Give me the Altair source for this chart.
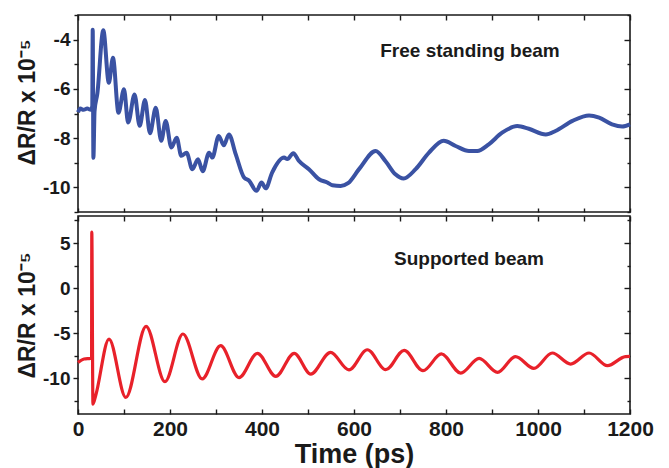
import altair as alt
import pandas as pd

# ---- data ----
# Free standing beam (blue), time in ps, dR/R x 1e-5
fs_t = [0, 5, 12, 20, 28, 31, 32, 33.5, 36, 42, 55, 67, 76, 88, 100, 109, 123, 134, 145.6, 156.5,
        169, 181, 190.6, 203, 214.5, 224.6, 236, 248.5, 261, 271, 285, 292, 306, 317, 328, 343,
        361, 372, 388, 399, 408, 422, 448, 455, 468, 480, 502, 524, 542, 553, 571, 587, 611,
        647, 669, 690, 708, 734, 763, 795, 821, 850, 868, 893, 922, 955, 980, 1017, 1038, 1075,
        1111, 1133, 1161, 1183, 1200]
fs_v = [-6.95, -6.8, -6.85, -6.8, -6.85, -6.7, -3.6, -8.8, -6.9, -6.2, -3.62, -5.75, -4.74, -6.97,
        -6.02, -7.37, -6.23, -7.5, -6.45, -7.8, -6.77, -8.11, -7.3, -8.38, -7.98, -8.72, -8.59,
        -9.26, -8.86, -9.35, -8.59, -8.79, -7.91, -8.29, -7.85, -8.66, -9.6, -9.73, -10.14, -9.8,
        -10.04, -9.4, -8.79, -8.85, -8.61, -8.92, -9.26, -9.67, -9.8, -9.91, -9.94, -9.83, -9.26,
        -8.52, -8.95, -9.47, -9.64, -9.26, -8.59, -8.11, -8.32, -8.52, -8.52, -8.25, -7.78, -7.51,
        -7.62, -7.85, -7.71, -7.3, -7.08, -7.17, -7.44, -7.53, -7.44]

# Supported beam (red)
sb_t = [0, 13, 27, 29.5, 30, 32.5, 38.4, 67.4, 104, 148, 189, 228, 270, 310, 350, 390, 430, 470,
        506, 549, 589, 629, 669, 709, 750, 790, 832, 872, 912, 951, 991, 1031, 1071, 1111, 1151,
        1190, 1200]
sb_v = [-8.27, -7.89, -7.82, -7.8, 6.2, -12.9, -11.97, -5.67, -12.15, -4.26, -10.41, -5.11, -10.1,
        -6.41, -9.95, -7.26, -9.82, -7.26, -9.56, -7.15, -9.1, -6.86, -9.08, -6.93, -9.19, -7.33,
        -9.45, -7.82, -9.37, -7.63, -8.93, -7.22, -8.45, -7.22, -8.63, -7.62, -7.6]

x_ticks = list(range(0, 1201, 100))
top_major = [-10, -8, -6, -4]
top_minor = [-11, -9, -7, -5, -3]
bot_major = [-10, -5, 0, 5]
bot_minor = [-12.5, -7.5, -2.5, 2.5, 7.5]
top_note = ["Free standing beam"]
bot_note = ["Supported beam"]
y_title = "\u0394R/R x 10\u207b\u2075"
x_title = "Time (ps)"

FONT = "Liberation Sans"
INK = "#1a1a1a"
PW = 552
YLAB = "(datum.value < 0 ? '-' : '') + abs(datum.value)"


def panel(t, v, color, lw, ydom, ymajor, yminor, height, note, nx, ny, bottom, ty):
    df = pd.DataFrame({"t": t, "v": v})
    xs = alt.Scale(domain=[0, 1200], nice=False, zero=False)
    ys = alt.Scale(domain=ydom, nice=False, zero=False)
    if bottom:
        xb = alt.Axis(orient="bottom", values=x_ticks, tickSize=5, offset=-5, domain=False,
                      grid=False, labelExpr="datum.value % 200 == 0 ? '' + datum.value : ''",
                      labelFlush=False, labelOverlap=False, labelFontSize=21, labelPadding=4,
                      title=x_title, titleFontSize=27, titlePadding=2)
    else:
        xb = alt.Axis(orient="bottom", values=x_ticks, tickSize=4, offset=-4, domain=False,
                      grid=False, labels=False, title="")
    xt = alt.Axis(orient="top", values=x_ticks, tickSize=5, offset=-5, domain=False,
                  grid=False, labels=False, title="")
    yl = alt.Axis(orient="left", values=ymajor, tickSize=5, domain=False, grid=False,
                  labelExpr=YLAB, labelFontSize=19, labelPadding=3, title=y_title,
                  titleFontSize=23, titlePadding=3, titleY=ty)
    ylm = alt.Axis(orient="left", values=yminor, tickSize=4, domain=False, grid=False,
                   labels=False, title="")
    yr = alt.Axis(orient="right", values=ymajor, tickSize=6, offset=-6, domain=False,
                  grid=False, labels=False, title="")
    yrm = alt.Axis(orient="right", values=yminor, tickSize=3, offset=-3, domain=False,
                   grid=False, labels=False, title="")

    base = alt.Chart(df)
    line = base.mark_line(color=color, strokeWidth=lw, interpolate="monotone").encode(
        x=alt.X("t:Q", scale=xs, axis=xb), y=alt.Y("v:Q", scale=ys, axis=yl))
    a2 = base.mark_line(strokeOpacity=0).encode(
        x=alt.X("t:Q", scale=xs, axis=xt), y=alt.Y("v:Q", scale=ys, axis=ylm))
    a3 = base.mark_line(strokeOpacity=0).encode(
        x=alt.X("t:Q", scale=xs, axis=None), y=alt.Y("v:Q", scale=ys, axis=yr))
    a4 = base.mark_line(strokeOpacity=0).encode(
        x=alt.X("t:Q", scale=xs, axis=None), y=alt.Y("v:Q", scale=ys, axis=yrm))
    txt = alt.Chart(pd.DataFrame({"label": note})).mark_text(
        font=FONT, fontSize=19, fontWeight="bold", color=INK, align="center",
        baseline="middle").encode(x=alt.value(nx), y=alt.value(ny), text="label:N")
    return alt.layer(line, a2, a3, a4, txt).resolve_axis(
        x="independent", y="independent").properties(width=PW, height=height)


top = panel(fs_t, fs_v, "#3a52a3", 4, [-11, -3], top_major, top_minor, 197,
            top_note, 392, 36, False, 87)
bot = panel(sb_t, sb_v, "#e8212a", 3.2, [-14, 8], bot_major, bot_minor, 198,
            bot_note, 391, 43, True, 99)

chart = alt.vconcat(top, bot, spacing=0).properties(
    padding={"left": 7, "top": 5, "right": 5, "bottom": 0}
).configure_view(stroke=INK, strokeWidth=1.6).configure_axis(
    labelFont=FONT, labelFontWeight="bold", labelColor=INK, titleFont=FONT,
    titleFontWeight="bold", titleColor=INK, tickColor=INK, tickWidth=1.4
)

chart.save("out.html", embed_options={"renderer": "svg", "actions": False})
